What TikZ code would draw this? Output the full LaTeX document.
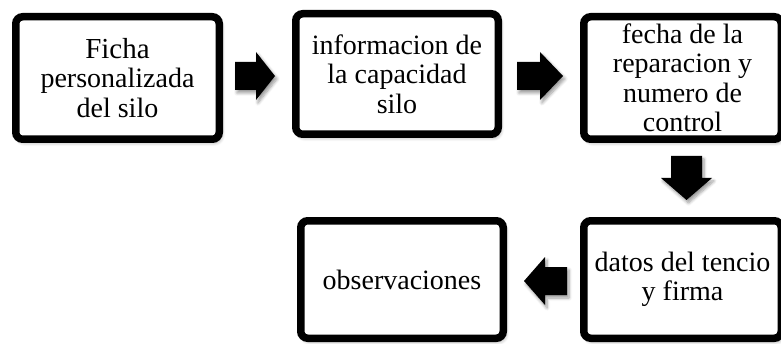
\documentclass[tikz,border=0pt]{standalone}
\usepackage{fontspec}
\setmainfont{Liberation Serif}
\usetikzlibrary{shadows.blur}
\tikzset{
  box/.style={draw=black, line width=7.5pt, fill=white, rounded corners=7pt,
    inner sep=0pt, align=center, font=\fontsize{28}{29.5}\selectfont,
    blur shadow={shadow xshift=2pt, shadow yshift=-3pt, shadow blur steps=6, shadow blur radius=4pt, shadow opacity=40}},
  blockarrow/.style={fill=black, draw=none,
    blur shadow={shadow xshift=2pt, shadow yshift=-3pt, shadow blur steps=6, shadow blur radius=3pt, shadow opacity=40}}
}
\begin{document}
\begin{tikzpicture}[x=1pt,y=1pt]
\useasboundingbox (0,0) rectangle (781,343);
\clip (0,0) rectangle (781,343);
\node[box, minimum width=203.5pt, minimum height=122.5pt] (b1) at (117.5,265)
  {\fontsize{29}{30}\selectfont Ficha\\personalizada\\del silo};
\node[box, minimum width=202.5pt, minimum height=120.5pt] (b2) at (397,269)
  {informacion de\\la capacidad\\silo};
\node[box, minimum width=197.5pt, minimum height=122.5pt] (b3) at (682.5,265)
  {fecha de la\\reparacion y\\numero de\\control};
\node[box, minimum width=197.5pt, minimum height=117.5pt] (b4) at (682.5,63.5)
  {datos del tencio\\y firma};
\node[box, minimum width=202.5pt, minimum height=117.5pt] (b5) at (402,63.5)
  {observaciones};
% block arrows
\path[blockarrow] (235,281) -- (256,281) -- (256,291) -- (275,267) -- (256,243) -- (256,253) -- (235,253) -- cycle;
\path[blockarrow] (517,281) -- (540,281) -- (540,291) -- (563,267) -- (540,243) -- (540,253) -- (517,253) -- cycle;
\path[blockarrow] (671,187) -- (702,187) -- (702,165) -- (712,165) -- (686.5,143) -- (661,165) -- (671,165) -- cycle;
\path[blockarrow] (567,76) -- (545,76) -- (545,86) -- (524,62) -- (545,38) -- (545,48) -- (567,48) -- cycle;
\end{tikzpicture}
\end{document}
